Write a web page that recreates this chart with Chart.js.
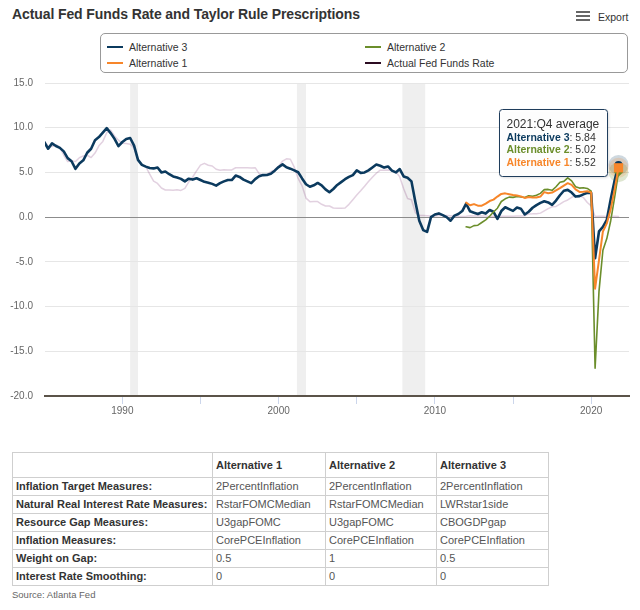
<!DOCTYPE html>
<html>
<head>
<meta charset="utf-8">
<script src="https://cdn.jsdelivr.net/npm/chart.js@4.4.1/dist/chart.umd.min.js"></script>
<style>
html,body{margin:0;padding:0;background:#fff;}
body{width:640px;height:610px;position:relative;overflow:hidden;font-family:"Liberation Sans",Arial,Helvetica,sans-serif;}
#title{position:absolute;left:12px;top:6px;font-size:14px;font-weight:bold;color:#333;white-space:nowrap;letter-spacing:-0.1px;}
#exportIcon{position:absolute;left:576px;top:11px;width:14px;height:10px;}
#exportIcon div{position:absolute;left:0;width:14px;height:2px;background:#666;}
#exportText{position:absolute;left:598px;top:11px;font-size:10.5px;color:#333;}
#legend{position:absolute;left:100px;top:33px;width:528px;height:40px;border:1px solid #999;border-radius:5px;box-sizing:border-box;}
.litem{position:absolute;font-size:10.5px;color:#333;white-space:nowrap;height:14px;line-height:14px;}
.lsym{position:absolute;top:6px;width:16px;height:2px;}
.ltxt{position:absolute;left:22px;top:0;}
#chart{position:absolute;left:0;top:0;}
#tbl{position:absolute;left:12px;top:452px;border-collapse:collapse;font-size:11px;color:#555;}
#tbl td{border:1px solid #cfcfcf;padding:0 3px;height:17px;line-height:17px;white-space:nowrap;}
#tbl tr.hdr td{height:24px;line-height:24px;font-weight:bold;color:#333;}
#tbl td.lbl{font-weight:bold;color:#333;}
#source{position:absolute;left:12px;top:589px;font-size:9.5px;color:#666;}
</style>
</head>
<body>
<div id="title"></div>
<div id="exportIcon"><div style="top:0"></div><div style="top:4px"></div><div style="top:8px"></div></div>
<div id="exportText">Export</div>
<div id="legend"></div>
<canvas id="chart" width="640" height="430"></canvas>
<table id="tbl"></table>
<div id="source"></div>
<script>
// ---------------- DATA ----------------
const chartTitle = "Actual Fed Funds Rate and Taylor Rule Prescriptions";
const sourceText = "Source: Atlanta Fed";

// Quarterly series; first value is Q1 of the start year
const alt3StartYear = 1985;
const alt3Values = [
  8.4, 7.65, 8.25, 7.95,   // 1985
  7.75, 7.35, 6.6, 6.25,   // 1986
  5.4, 6.0, 6.35, 7.2,     // 1987
  7.65, 8.6, 8.95, 9.45,   // 1988
  9.95, 9.4, 8.75, 7.95,   // 1989
  8.4, 8.75, 8.85, 8.0,    // 1990
  6.4, 5.85, 5.65, 5.5,    // 1991
  5.45, 5.55, 5.0, 5.1,    // 1992
  4.8, 4.55, 4.43, 4.28,   // 1993
  4.0, 4.3, 4.2, 4.35,     // 1994
  4.15, 3.95, 3.85, 3.72,  // 1995
  3.53, 3.8, 4.0, 4.15,    // 1996
  4.15, 4.65, 4.5, 4.2,    // 1997
  4.0, 3.8, 4.25, 4.57,    // 1998
  4.7, 4.72, 4.85, 5.2,    // 1999
  5.6, 5.9, 5.57, 5.42,    // 2000
  5.23, 5.02, 4.33, 3.68,  // 2001
  3.4, 3.56, 3.82, 3.56,   // 2002
  3.1, 2.78, 3.15, 3.6,    // 2003
  3.92, 4.24, 4.5, 4.7,    // 2004
  5.22, 4.95, 5.0, 5.23,   // 2005
  5.56, 5.88, 5.75, 5.54,  // 2006
  5.67, 5.2, 5.0, 5.38,    // 2007
  4.55, 4.4, 4.0, 1.7,     // 2008
  -0.4, -1.45, -1.65, 0.0, // 2009
  0.3, 0.42, 0.22, 0.0,    // 2010
  -0.4, 0.17, 0.35, 0.68,  // 2011
  1.5, 0.65, 0.5, 0.35,    // 2012
  0.55, 0.4, 0.8, 0.6,     // 2013
  -0.2, 0.68, 1.1, 0.9,    // 2014
  0.7, 1.07, 0.95, 0.3,    // 2015
  0.6, 1.05, 1.35, 1.6,    // 2016
  1.78, 1.65, 1.38, 1.85,  // 2017
  2.45, 2.95, 3.05, 2.75,  // 2018
  2.3, 2.35, 2.55, 2.72,   // 2019
  2.7, -4.6, -1.6, -1.1,   // 2020
  -0.3, 2.0, 4.1, 5.84     // 2021
];

const actualStartYear = 1985;
const actualValues = [
  8.48, 7.92, 7.90, 8.10,  // 1985
  7.83, 6.92, 6.21, 6.27,  // 1986
  6.22, 6.65, 6.84, 6.92,  // 1987
  6.66, 7.16, 7.98, 8.47,  // 1988
  9.44, 9.73, 9.08, 8.61,  // 1989
  8.25, 8.24, 8.16, 7.74,  // 1990
  6.43, 5.86, 5.64, 4.82,  // 1991
  4.02, 3.77, 3.26, 3.04,  // 1992
  3.04, 3.00, 3.06, 2.99,  // 1993
  3.21, 3.94, 4.49, 5.17,  // 1994
  5.81, 6.02, 5.80, 5.72,  // 1995
  5.36, 5.24, 5.31, 5.28,  // 1996
  5.28, 5.52, 5.53, 5.51,  // 1997
  5.52, 5.50, 5.53, 4.86,  // 1998
  4.73, 4.75, 5.09, 5.31,  // 1999
  5.68, 6.27, 6.52, 6.47,  // 2000
  5.59, 4.33, 3.50, 2.13,  // 2001
  1.73, 1.75, 1.74, 1.44,  // 2002
  1.25, 1.25, 1.02, 1.00,  // 2003
  1.00, 1.03, 1.43, 1.95,  // 2004
  2.47, 2.94, 3.46, 3.98,  // 2005
  4.46, 4.91, 5.25, 5.25,  // 2006
  5.26, 5.25, 5.07, 4.50,  // 2007
  3.18, 2.09, 1.94, 0.51,  // 2008
  0.18, 0.18, 0.16, 0.12,  // 2009
  0.13, 0.19, 0.19, 0.19,  // 2010
  0.16, 0.09, 0.08, 0.07,  // 2011
  0.10, 0.15, 0.14, 0.16,  // 2012
  0.14, 0.12, 0.08, 0.09,  // 2013
  0.07, 0.09, 0.09, 0.10,  // 2014
  0.11, 0.12, 0.13, 0.16,  // 2015
  0.36, 0.37, 0.39, 0.45,  // 2016
  0.70, 0.95, 1.15, 1.20,  // 2017
  1.45, 1.74, 1.92, 2.22,  // 2018
  2.40, 2.40, 2.19, 1.64,  // 2019
  1.26, 0.06, 0.09, 0.09,  // 2020
  0.08, 0.07, 0.09, 0.08   // 2021
];

const alt12StartYear = 2012;
const alt1Values = [
  1.62, 1.33, 1.46, 1.28,  // 2012
  1.28, 1.52, 1.8, 1.96,   // 2013
  2.3, 2.6, 2.66, 2.57,    // 2014
  2.48, 2.41, 2.32, 2.15,  // 2015
  2.25, 2.2, 2.2, 2.3,     // 2016
  2.8, 2.68, 2.75, 3.0,    // 2017
  3.24, 3.53, 3.8, 3.6,    // 2018
  3.1, 2.82, 2.84, 2.9,    // 2019
  2.75, -8.0, -4.8, -1.6,  // 2020
  -0.7, 0.9, 3.1, 5.52     // 2021
];
const alt2Values = [
  -1.08, -1.17, -0.95, -0.9, // 2012
  -0.6, -0.3, 0.1, 0.57,     // 2013
  1.0, 1.75, 2.05, 2.24,     // 2014
  2.21, 2.3, 2.26, 2.2,      // 2015
  2.4, 2.33, 2.45, 2.66,     // 2016
  3.08, 3.1, 3.0, 3.4,       // 2017
  3.9, 4.0, 4.4, 4.05,       // 2018
  3.4, 3.25, 3.28, 3.21,     // 2019
  2.9, -16.9, -8.3, -3.7,    // 2020
  -2.4, -0.4, 2.2, 5.02      // 2021
];

const seriesNames = ["Alternative 3", "Alternative 2", "Alternative 1", "Actual Fed Funds Rate"];
const tooltipTitle = "2021:Q4 average";

const recessionStarts = [1990.5, 2001.17, 2007.92];
const recessionEnds   = [1991.0, 2001.75, 2009.38];

const yTickValues = [-20, -15, -10, -5, 0, 5, 10, 15];
const xTickYears = [1990, 1995, 2000, 2005, 2010, 2015, 2020];
const xLabelYears = [1990, 2000, 2010, 2020];

const tableHeader = ["", "Alternative 1", "Alternative 2", "Alternative 3"];
const tableRowLabels = ["Inflation Target Measures:", "Natural Real Interest Rate Measures:", "Resource Gap Measures:", "Inflation Measures:", "Weight on Gap:", "Interest Rate Smoothing:"];
const tableAlt1 = ["2PercentInflation", "RstarFOMCMedian", "U3gapFOMC", "CorePCEInflation", "0.5", "0"];
const tableAlt2 = ["2PercentInflation", "RstarFOMCMedian", "U3gapFOMC", "CorePCEInflation", "1", "0"];
const tableAlt3 = ["2PercentInflation", "LWRstar1side", "CBOGDPgap", "CorePCEInflation", "0.5", "0"];

// ---------------- STYLE ----------------
const FONT = '"Liberation Sans", Arial, Helvetica, sans-serif';
const colAlt3 = '#0b3a5e';
const colAlt2 = '#6b8e2b';
const colAlt1 = '#f7862a';
const colActualLegend = '#2c0c22';
const colActualLine = 'rgba(125,45,115,0.22)';
const legendColors = [colAlt3, colAlt2, colAlt1, colActualLegend];

// ---------------- HTML parts ----------------
document.getElementById('title').textContent = chartTitle;
document.getElementById('source').textContent = sourceText;

const legendPos = [[6, 6], [264, 6], [6, 22], [264, 22]]; // Alt3, Alt2, Alt1, Actual
const legendEl = document.getElementById('legend');
seriesNames.forEach((n, i) => {
  const it = document.createElement('div');
  it.className = 'litem';
  it.style.left = legendPos[i][0] + 'px';
  it.style.top = legendPos[i][1] + 'px';
  const s = document.createElement('div'); s.className = 'lsym'; s.style.background = legendColors[i];
  const t = document.createElement('div'); t.className = 'ltxt'; t.textContent = n;
  it.appendChild(s); it.appendChild(t); legendEl.appendChild(it);
});

const tbl = document.getElementById('tbl');
const colWidths = [200, 113, 111, 112];
(function buildTable(){
  const hr = document.createElement('tr'); hr.className = 'hdr';
  tableHeader.forEach((h, j) => { const td = document.createElement('td'); td.textContent = h; td.style.width = (colWidths[j] - 7) + 'px'; hr.appendChild(td); });
  tbl.appendChild(hr);
  tableRowLabels.forEach((lab, i) => {
    const tr = document.createElement('tr');
    const vals = [lab, tableAlt1[i], tableAlt2[i], tableAlt3[i]];
    vals.forEach((v, j) => { const td = document.createElement('td'); td.textContent = v; if (j === 0) td.className = 'lbl'; tr.appendChild(td); });
    tbl.appendChild(tr);
  });
})();

// ---------------- CHART ----------------
function toPoints(startYear, values) {
  return values.map((v, i) => ({ x: startYear + i / 4, y: v }));
}
const alt3Pts = toPoints(alt3StartYear, alt3Values);
const actualPts = toPoints(actualStartYear, actualValues);
const alt1Pts = toPoints(alt12StartYear, alt1Values);
const alt2Pts = toPoints(alt12StartYear, alt2Values);

function lastRadius(r) {
  return (ctx) => (ctx.dataIndex === ctx.dataset.data.length - 1 ? r : 0);
}

const bandsPlugin = {
  id: 'bands',
  beforeDraw(chart) {
    const { ctx, chartArea: a, scales: { x } } = chart;
    ctx.save();
    ctx.fillStyle = '#efefef';
    recessionStarts.forEach((s, i) => {
      const x0 = x.getPixelForValue(s), x1 = x.getPixelForValue(recessionEnds[i]);
      ctx.fillRect(x0, a.top, x1 - x0, a.bottom - a.top);
    });
    ctx.restore();
  },
  beforeDatasetsDraw(chart) {
    const ctx = chart.ctx;
    ctx.save();
    [[0, 'rgba(11,58,94,0.2)'], [1, 'rgba(107,142,43,0.22)'], [2, 'rgba(247,134,42,0.2)']].forEach(([di, c]) => {
      const m = chart.getDatasetMeta(di);
      const p = m.data[m.data.length - 1];
      ctx.beginPath(); ctx.arc(p.x, p.y, 10, 0, Math.PI * 2); ctx.fillStyle = c; ctx.fill();
    });
    ctx.restore();
  },
  afterDraw(chart) {
    const ctx = chart.ctx;
    const m = chart.getDatasetMeta(0);
    const p = m.data[m.data.length - 1];
    const items = [
      { name: seriesNames[0], color: colAlt3, v: alt3Values[alt3Values.length - 1] },
      { name: seriesNames[1], color: colAlt2, v: alt2Values[alt2Values.length - 1] },
      { name: seriesNames[2], color: colAlt1, v: alt1Values[alt1Values.length - 1] }
    ];
    ctx.save();
    ctx.font = '12px ' + FONT;
    let w = ctx.measureText(tooltipTitle).width;
    items.forEach(it => {
      ctx.font = 'bold 10.5px ' + FONT;
      const a = ctx.measureText(it.name).width;
      ctx.font = '10.5px ' + FONT;
      const b = ctx.measureText(': ' + it.v.toFixed(2)).width;
      w = Math.max(w, a + b);
    });
    const bw = Math.round(w + 15), bh = 67;
    const bx = Math.round(p.x - 12 - bw) + 0.5, by = Math.round(p.y - 56) + 0.5;
    ctx.shadowColor = 'rgba(0,0,0,0.18)'; ctx.shadowBlur = 3; ctx.shadowOffsetX = 1; ctx.shadowOffsetY = 1;
    ctx.beginPath();
    if (ctx.roundRect) ctx.roundRect(bx, by, bw, bh, 3); else ctx.rect(bx, by, bw, bh);
    ctx.fillStyle = 'rgba(255,255,255,0.95)'; ctx.fill();
    ctx.shadowColor = 'transparent';
    ctx.strokeStyle = '#1f3d5c'; ctx.lineWidth = 1; ctx.stroke();
    ctx.textBaseline = 'middle'; ctx.textAlign = 'left';
    ctx.font = '12px ' + FONT; ctx.fillStyle = '#333';
    ctx.fillText(tooltipTitle, bx + 7, by + 15);
    const ys = [28.5, 41, 53.5];
    items.forEach((it, i) => {
      ctx.font = 'bold 10.5px ' + FONT; ctx.fillStyle = it.color;
      ctx.fillText(it.name, bx + 7, by + ys[i]);
      const a = ctx.measureText(it.name).width;
      ctx.font = '10.5px ' + FONT; ctx.fillStyle = '#333';
      ctx.fillText(': ' + it.v.toFixed(2), bx + 7 + a, by + ys[i]);
    });
    ctx.restore();
  }
};

new Chart(document.getElementById('chart'), {
  type: 'line',
  data: {
    datasets: [
      { label: seriesNames[0], data: alt3Pts, borderColor: colAlt3, backgroundColor: colAlt3, borderWidth: 2.6, order: 3,
        pointRadius: lastRadius(4), pointStyle: 'circle', pointBorderWidth: 0, pointBackgroundColor: colAlt3 },
      { label: seriesNames[1], data: alt2Pts, borderColor: colAlt2, backgroundColor: colAlt2, borderWidth: 1.6, order: 2,
        pointRadius: lastRadius(4.5), pointStyle: 'rectRot', pointBorderWidth: 0, pointBackgroundColor: colAlt2 },
      { label: seriesNames[2], data: alt1Pts, borderColor: colAlt1, backgroundColor: colAlt1, borderWidth: 2, order: 1,
        pointRadius: lastRadius(6.5), pointStyle: 'rect', pointBorderWidth: 0, pointBackgroundColor: colAlt1 },
      { label: seriesNames[3], data: actualPts, borderColor: colActualLine, backgroundColor: colActualLine, borderWidth: 1.5, order: 4,
        pointRadius: 0 }
    ]
  },
  options: {
    responsive: false,
    animation: false,
    events: [],
    parsing: true,
    layout: { padding: { top: 83, right: 11, left: 0, bottom: 8 } },
    elements: { line: { tension: 0, borderJoinStyle: 'round', borderCapStyle: 'round' } },
    plugins: { legend: { display: false }, tooltip: { enabled: false }, title: { display: false } },
    scales: {
      x: {
        type: 'linear', min: 1985.05, max: 2022.42,
        afterFit(s) { s.height = 26; },
        afterBuildTicks(s) { s.ticks = xTickYears.map(v => ({ value: v })); },
        ticks: { autoSkip: false, maxRotation: 0, padding: 1, color: '#666', font: { family: FONT, size: 10 },
          callback: (v) => (xLabelYears.includes(v) ? String(v) : '') },
        grid: { drawOnChartArea: false, drawTicks: true, tickLength: 8, tickColor: '#ccd6eb', tickWidth: 1 },
        border: { display: true, color: '#5b5349', width: 2 }
      },
      y: {
        type: 'linear', min: -20, max: 15,
        afterFit(s) { s.width = 45; },
        afterBuildTicks(s) { s.ticks = yTickValues.map(v => ({ value: v })); },
        ticks: { padding: 12, color: '#666', font: { family: FONT, size: 10 }, callback: (v) => Number(v).toFixed(1) },
        grid: { drawTicks: false, color: (c) => (c.tick && c.tick.value === 0 ? '#8c8c8c' : '#e6e6e6'), lineWidth: 1 },
        border: { display: false }
      }
    }
  },
  plugins: [bandsPlugin]
});
</script>
</body>
</html>
